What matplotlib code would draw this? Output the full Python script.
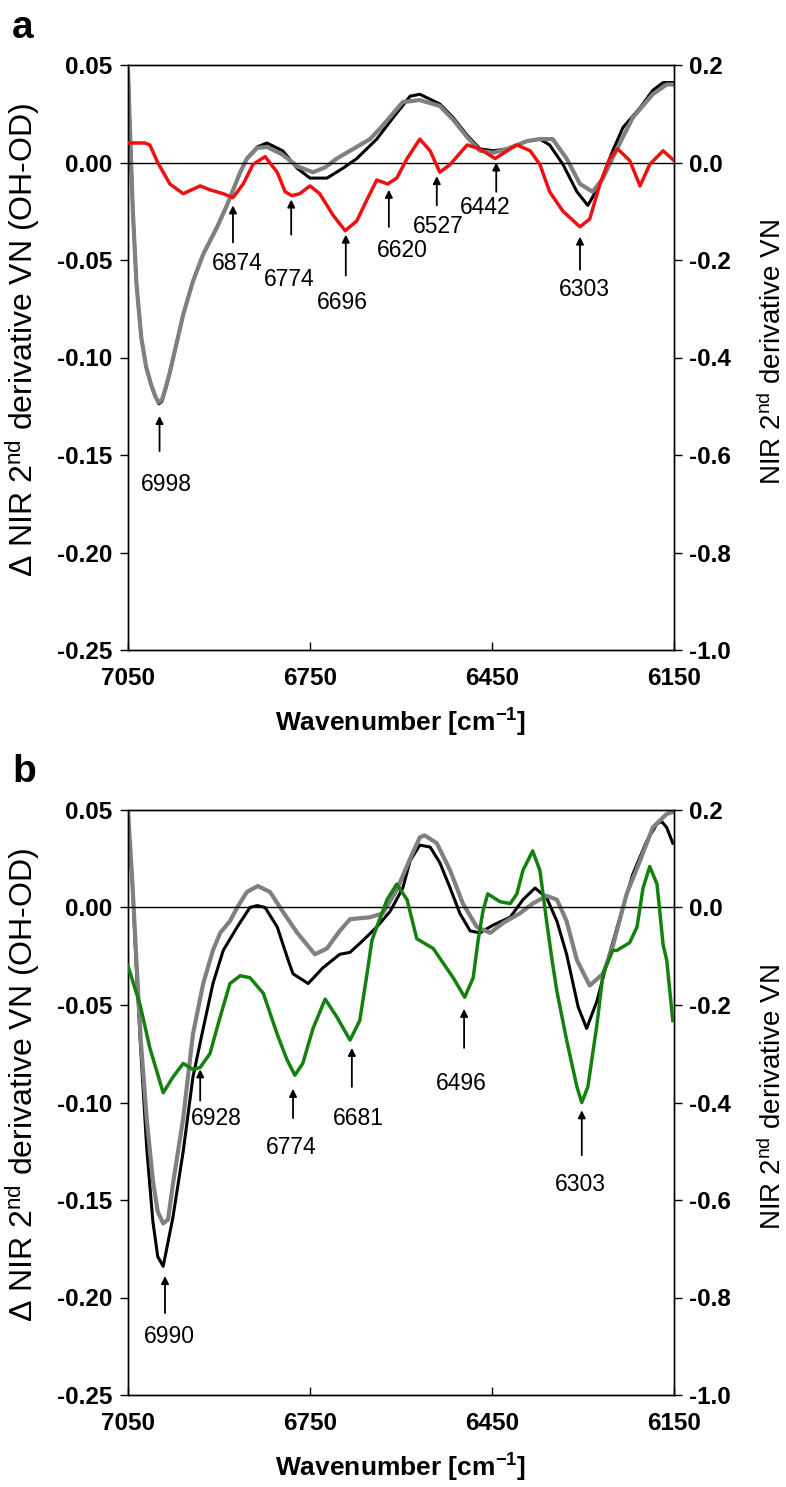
import matplotlib
matplotlib.use('Agg')
import matplotlib.pyplot as plt
from matplotlib.ticker import FormatStrFormatter

plt.rcParams['font.family'] = ['Liberation Sans', 'DejaVu Sans']
plt.rcParams['mathtext.fontset'] = 'custom'
plt.rcParams['mathtext.rm'] = 'Liberation Sans'
plt.rcParams['mathtext.bf'] = 'Liberation Sans:bold'
plt.rcParams['mathtext.it'] = 'Liberation Sans:italic'
plt.rcParams['axes.unicode_minus'] = False

# ---------------- panel a ----------------
# black / grey: NIR 2nd derivative VN (right axis)
a_black_x = [7050, 7046, 7042, 7036, 7028, 7020, 7012, 7005, 6999, 6994, 6988, 6981, 6959, 6943,
             6926, 6903, 6887, 6865, 6854, 6837, 6821, 6795, 6771, 6750, 6722, 6696, 6673, 6640,
             6613, 6585, 6569, 6536, 6514, 6491, 6470, 6448, 6425, 6392, 6371, 6355, 6333, 6310,
             6292, 6272, 6251, 6234, 6206, 6185, 6168, 6152]
a_black_y = [0.19, 0.04, -0.10, -0.25, -0.36, -0.42, -0.455, -0.48, -0.495, -0.49, -0.465, -0.432,
             -0.312, -0.244, -0.188, -0.132, -0.088, -0.020, 0.008, 0.032, 0.040, 0.024, -0.012,
             -0.032, -0.032, -0.012, 0.008, 0.048, 0.092, 0.136, 0.140, 0.120, 0.092, 0.056, 0.028,
             0.024, 0.028, 0.044, 0.048, 0.036, -0.004, -0.060, -0.088, -0.044, 0.024, 0.072,
             0.112, 0.148, 0.164, 0.164]
a_grey_x = [7050, 7046, 7042, 7036, 7028, 7020, 7012, 7005, 6999, 6994, 6988, 6981, 6959, 6943,
            6926, 6903, 6887, 6865, 6854, 6837, 6821, 6795, 6771, 6745, 6725, 6706, 6673, 6651,
            6630, 6597, 6569, 6536, 6514, 6491, 6470, 6448, 6425, 6392, 6371, 6350, 6327, 6305,
            6284, 6267, 6244, 6218, 6185, 6162, 6152]
a_grey_y = [0.19, 0.04, -0.10, -0.25, -0.36, -0.42, -0.455, -0.48, -0.492, -0.487, -0.462, -0.430,
            -0.312, -0.244, -0.188, -0.132, -0.088, -0.020, 0.008, 0.030, 0.032, 0.016, -0.008,
            -0.020, -0.010, 0.008, 0.032, 0.048, 0.076, 0.124, 0.128, 0.116, 0.088, 0.052, 0.024,
            0.020, 0.028, 0.044, 0.048, 0.048, 0.008, -0.044, -0.060, -0.032, 0.028, 0.092,
            0.140, 0.160, 0.160]
# red: delta NIR 2nd derivative VN (OH-OD) (left axis)
a_red_x = [7050, 7022, 7014, 7001, 6981, 6959, 6931, 6915, 6893, 6877, 6860, 6844, 6824, 6804,
           6791, 6780, 6767, 6750, 6734, 6712, 6692, 6673, 6656, 6640, 6622, 6607, 6590, 6569,
           6552, 6536, 6519, 6491, 6470, 6445, 6425, 6409, 6387, 6371, 6355, 6333, 6305, 6289,
           6272, 6256, 6243, 6223, 6206, 6190, 6168, 6150]
a_red_y = [0.010, 0.010, 0.009, 0.000, -0.011, -0.016, -0.012, -0.014, -0.016, -0.018, -0.011,
           -0.001, 0.003, -0.005, -0.015, -0.017, -0.016, -0.012, -0.016, -0.027, -0.035, -0.030,
           -0.019, -0.009, -0.011, -0.008, 0.002, 0.012, 0.006, -0.005, -0.001, 0.009, 0.007,
           0.002, 0.006, 0.009, 0.006, -0.001, -0.015, -0.025, -0.033, -0.029, -0.011, 0.002,
           0.007, 0.001, -0.012, -0.001, 0.006, 0.001]
a_peaks = ['6998', '6874', '6774', '6696', '6620', '6527', '6442', '6303']
a_arrow_x = [6998, 6877, 6781, 6691, 6620, 6541, 6443, 6305]
a_arrow_tip = [-0.130, -0.022, -0.019, -0.037, -0.014, -0.007, 0.000, -0.038]
a_arrow_tail = [-0.148, -0.041, -0.037, -0.058, -0.033, -0.022, -0.015, -0.055]
a_label_x = [6986, 6870, 6785, 6696, 6598, 6539, 6462, 6297]
a_label_y = [-0.165, -0.052, -0.060, -0.072, -0.045, -0.033, -0.023, -0.065]

# ---------------- panel b ----------------
b_black_x = [7050, 7043, 7037, 7029, 7019, 7009, 7001, 6992, 6976, 6959, 6943, 6926, 6910, 6893,
             6870, 6849, 6837, 6824, 6804, 6786, 6778, 6753, 6729, 6701, 6684, 6663, 6640, 6618,
             6597, 6585, 6569, 6552, 6536, 6519, 6503, 6486, 6470, 6448, 6420, 6399, 6379, 6360,
             6343, 6327, 6308, 6294, 6277, 6261, 6239, 6218, 6195, 6178, 6170, 6162, 6152]
b_black_y = [0.18, 0.056, -0.108, -0.292, -0.496, -0.644, -0.716, -0.736, -0.636, -0.500, -0.348,
             -0.248, -0.156, -0.088, -0.040, 0.000, 0.004, 0.000, -0.040, -0.108, -0.136, -0.156,
             -0.124, -0.096, -0.092, -0.068, -0.040, -0.008, 0.040, 0.096, 0.128, 0.124, 0.092,
             0.040, -0.012, -0.048, -0.052, -0.036, -0.020, 0.016, 0.040, 0.020, -0.028, -0.096,
             -0.204, -0.248, -0.192, -0.116, -0.020, 0.068, 0.136, 0.172, 0.176, 0.164, 0.132]
b_grey_x = [7050, 7043, 7037, 7029, 7019, 7009, 7001, 6992, 6984, 6976, 6959, 6943, 6926, 6910,
            6898, 6882, 6870, 6854, 6836, 6816, 6795, 6771, 6742, 6722, 6701, 6684, 6651, 6630,
            6607, 6585, 6569, 6561, 6541, 6519, 6498, 6475, 6453, 6432, 6404, 6383, 6360, 6343,
            6327, 6310, 6289, 6267, 6251, 6228, 6206, 6185, 6162, 6152]
b_grey_y = [0.200, 0.056, -0.088, -0.272, -0.436, -0.560, -0.624, -0.648, -0.640, -0.568, -0.432,
            -0.260, -0.156, -0.088, -0.052, -0.028, 0.000, 0.032, 0.044, 0.032, -0.008, -0.052,
            -0.096, -0.084, -0.048, -0.024, -0.020, -0.012, 0.036, 0.100, 0.144, 0.148, 0.132,
            0.076, 0.008, -0.040, -0.052, -0.032, -0.012, 0.008, 0.024, 0.016, -0.028, -0.108,
            -0.160, -0.136, -0.080, 0.028, 0.096, 0.164, 0.192, 0.196]
b_green_x = [7050, 7030, 7014, 6992, 6976, 6959, 6943, 6931, 6915, 6898, 6882, 6865, 6849, 6827,
             6804, 6788, 6775, 6762, 6745, 6725, 6706, 6684, 6668, 6656, 6648, 6640, 6623, 6607,
             6590, 6574, 6547, 6536, 6514, 6495, 6481, 6473, 6465, 6457, 6437, 6420, 6409, 6399,
             6383, 6371, 6360, 6351, 6343, 6327, 6310, 6302, 6292, 6277, 6267, 6251, 6244, 6223,
             6211, 6201, 6190, 6178, 6168, 6162, 6152]
b_green_y = [-0.030, -0.050, -0.072, -0.095, -0.087, -0.080, -0.083, -0.082, -0.075, -0.056,
             -0.039, -0.035, -0.036, -0.044, -0.065, -0.078, -0.086, -0.080, -0.062, -0.047,
             -0.056, -0.068, -0.058, -0.034, -0.017, -0.010, 0.004, 0.012, 0.004, -0.016, -0.021,
             -0.026, -0.036, -0.046, -0.036, -0.017, -0.002, 0.007, 0.003, 0.002, 0.007, 0.019,
             0.029, 0.019, -0.007, -0.027, -0.043, -0.068, -0.092, -0.100, -0.092, -0.060, -0.034,
             -0.022, -0.022, -0.018, -0.010, 0.010, 0.021, 0.012, -0.019, -0.027, -0.058]
b_peaks = ['6990', '6928', '6774', '6681', '6496', '6303']
b_arrow_x = [6989, 6931, 6778, 6681, 6496, 6302]
b_arrow_tip = [-0.189, -0.083, -0.093, -0.072, -0.052, -0.104]
b_arrow_tail = [-0.208, -0.099, -0.108, -0.092, -0.072, -0.127]
b_label_x = [6981, 6905, 6781, 6671, 6501, 6305]
b_label_y = [-0.220, -0.108, -0.123, -0.108, -0.090, -0.142]

xticks = [7050, 6750, 6450, 6150]
left_ticks = [0.05, 0.00, -0.05, -0.10, -0.15, -0.20, -0.25]
right_ticks = [0.2, 0.0, -0.2, -0.4, -0.6, -0.8, -1.0]

W, H = 786, 1487
fig = plt.figure(figsize=(W / 100, H / 100), dpi=100)


def make_axes(top_px, bottom_px):
    left_px, right_px = 128, 674
    rect = [left_px / W, 1 - bottom_px / H, (right_px - left_px) / W, (bottom_px - top_px) / H]
    ax = fig.add_axes(rect)
    ax2 = ax.twinx()
    ax.set_zorder(ax2.get_zorder() + 1)
    ax.patch.set_visible(False)

    ax.set_xlim(7050, 6150)
    ax.set_ylim(-0.25, 0.05)
    ax2.set_ylim(-1.0, 0.2)
    ax.set_xticks(xticks)
    ax.set_yticks(left_ticks)
    ax2.set_yticks(right_ticks)
    ax.yaxis.set_major_formatter(FormatStrFormatter('%.2f'))
    ax2.yaxis.set_major_formatter(FormatStrFormatter('%.1f'))
    ax.tick_params(axis='x', direction='in', length=6, width=1, labelsize=17.5, pad=12)
    ax.tick_params(axis='y', direction='out', length=6, width=1, labelsize=17.5, pad=5)
    ax2.tick_params(axis='y', direction='out', length=6, width=1, labelsize=17.5, pad=5)
    for lab in ax.get_xticklabels() + ax.get_yticklabels() + ax2.get_yticklabels():
        lab.set_fontweight('bold')
    for sp in list(ax.spines.values()) + list(ax2.spines.values()):
        sp.set_linewidth(1)

    ax.axhline(0, color='black', lw=1.0, zorder=1)
    ax.set_xlabel(r'Wavenumber [cm$^{\mathbf{-1}}$]', fontsize=19, fontweight='bold', labelpad=12)
    # left label: anchor is the right edge of the rotated text
    ax.set_ylabel('Δ NIR 2$^{\\mathregular{nd}}$ derivative VN (OH-OD)', fontsize=23)
    ax.yaxis.set_label_coords((42 - left_px) / (right_px - left_px), 0.53)
    # right label: anchor is the left edge of the rotated text
    ax2.set_ylabel('NIR 2$^{\\mathregular{nd}}$ derivative VN', fontsize=20)
    ax2.yaxis.set_label_coords((759 - left_px) / (right_px - left_px), 0.51)
    return ax, ax2


def add_peaks(ax, labels, ax_x, tips, tails, lx, ly):
    for lab, x, t0, t1, tx, ty in zip(labels, ax_x, tips, tails, lx, ly):
        ax.annotate('', xy=(x, t0), xytext=(x, t1),
                    arrowprops=dict(arrowstyle='-|>', color='black', lw=1.3,
                                    mutation_scale=11, shrinkA=0, shrinkB=0))
        ax.text(tx, ty, lab, ha='center', va='center', fontsize=16.5)


# panel a
ax, ax2 = make_axes(65, 650)
ax2.plot(a_black_x, a_black_y, color='black', lw=2.2, solid_joinstyle='round')
ax2.plot(a_grey_x, a_grey_y, color='#808080', lw=3.0, solid_joinstyle='round')
ax.plot(a_red_x, a_red_y, color='#ee1111', lw=2.5, zorder=3, solid_joinstyle='round')
add_peaks(ax, a_peaks, a_arrow_x, a_arrow_tip, a_arrow_tail, a_label_x, a_label_y)
fig.text(12 / W, 1 - 28 / H, 'a', fontsize=28, fontweight='bold', va='center', ha='left')

# panel b
ax, ax2 = make_axes(810, 1395)
ax2.plot(b_black_x, b_black_y, color='black', lw=2.2, solid_joinstyle='round')
ax2.plot(b_grey_x, b_grey_y, color='#808080', lw=3.0, solid_joinstyle='round')
ax.plot(b_green_x, b_green_y, color='#14800f', lw=2.5, zorder=3, solid_joinstyle='round')
add_peaks(ax, b_peaks, b_arrow_x, b_arrow_tip, b_arrow_tail, b_label_x, b_label_y)
fig.text(12 / W, 1 - 772 / H, 'b', fontsize=28, fontweight='bold', va='center', ha='left')

fig.savefig('out.png', dpi=100)
